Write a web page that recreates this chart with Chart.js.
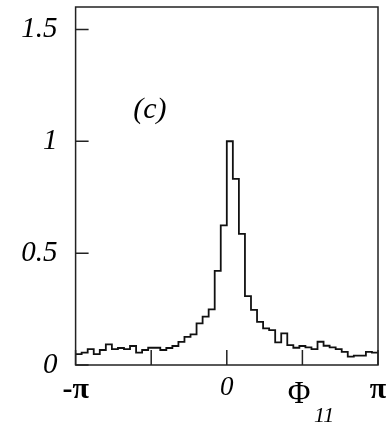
<!DOCTYPE html>
<html>
<head>
<meta charset="utf-8">
<script src="https://cdn.jsdelivr.net/npm/chart.js@4/dist/chart.umd.min.js"></script>
<style>
  html, body { margin: 0; padding: 0; background: #fff; }
  #wrap { width: 387px; height: 425px; }
</style>
</head>
<body>
<div id="wrap"><canvas id="c" width="387" height="425"></canvas></div>
<script>
// ---- data ----
const binLow = -Math.PI;
const binHigh = Math.PI;
const binValues = [
  0.049, 0.055, 0.071, 0.049, 0.067, 0.092, 0.071, 0.076, 0.071, 0.085,
  0.055, 0.067, 0.077, 0.077, 0.067, 0.076, 0.085, 0.103, 0.126, 0.137,
  0.186, 0.216, 0.249, 0.421, 0.624, 1.000, 0.832, 0.586, 0.308, 0.246,
  0.193, 0.164, 0.156, 0.101, 0.141, 0.089, 0.077, 0.085, 0.079, 0.071,
  0.104, 0.086, 0.079, 0.071, 0.059, 0.037, 0.042, 0.042, 0.059, 0.055
];
const xTickValues = [-Math.PI, -Math.PI / 2, 0, Math.PI / 2, Math.PI];
const xTickLabels = ['-\u03c0', '', '0', '', '\u03c0'];
const yTickValues = [0, 0.5, 1, 1.5];
const yTickLabels = ['0', '0.5', '1', '1.5'];
const yMax = 1.6;
const panelLabel = '(c)';
const axisSymbol = '\u03a6';
const axisSubscript = '11';

// ---- build histogram step points from bin edges ----
const nBins = binValues.length;
const binWidth = (binHigh - binLow) / nBins;
const points = binValues.map((v, i) => ({ x: binLow + i * binWidth, y: v }));
points.push({ x: binHigh, y: binValues[nBins - 1] });

const framePlugin = {
  id: 'frame',
  afterDatasetsDraw(chart) {
    const { ctx, chartArea: a, scales: { x, y } } = chart;
    ctx.save();
    ctx.strokeStyle = '#222';
    ctx.lineWidth = 1.5;
    ctx.strokeRect(a.left, a.top, a.right - a.left, a.bottom - a.top);
    ctx.beginPath();
    xTickValues.forEach(v => {
      const px = x.getPixelForValue(v);
      ctx.moveTo(px, a.bottom);
      ctx.lineTo(px, a.bottom - 15);
    });
    yTickValues.forEach(v => {
      const py = y.getPixelForValue(v);
      ctx.moveTo(a.left, py);
      ctx.lineTo(a.left + 13, py);
    });
    ctx.stroke();

    ctx.fillStyle = '#000';
    ctx.textAlign = 'center';
    ctx.textBaseline = 'middle';
    ctx.font = 'italic 30px "Liberation Serif"';
    ctx.fillText(panelLabel, x.getPixelForValue(-1.6), y.getPixelForValue(1.14));

    // axis title Phi_11
    const phiX = x.getPixelForValue(1.5);
    ctx.font = '31px "Liberation Serif"';
    ctx.fillText(axisSymbol, phiX, a.bottom + 30);
    ctx.font = 'italic 22px "Liberation Serif"';
    ctx.textAlign = 'left';
    ctx.fillText(axisSubscript, phiX + 15, a.bottom + 51);
    ctx.restore();
  }
};

new Chart(document.getElementById('c'), {
  type: 'line',
  data: {
    datasets: [{
      data: points,
      stepped: 'before',
      borderColor: '#111',
      borderWidth: 1.8,
      pointRadius: 0,
      fill: false,
      tension: 0
    }]
  },
  options: {
    responsive: false,
    animation: false,
    devicePixelRatio: 1,
    layout: { padding: { top: 7, right: 9, left: 0, bottom: 0 } },
    plugins: { legend: { display: false }, tooltip: { enabled: false } },
    scales: {
      x: {
        type: 'linear',
        min: binLow,
        max: binHigh,
        afterBuildTicks: s => { s.ticks = xTickValues.map(v => ({ value: v })); },
        afterFit: s => { s.height = 60; s.paddingLeft = 0; s.paddingRight = 0; },
        grid: { display: false, drawTicks: false },
        border: { display: false },
        ticks: {
          autoSkip: false,
          maxRotation: 0,
          minRotation: 0,
          padding: 7,
          color: '#000',
          callback: (v, i) => xTickLabels[i],
          font: c => (c.index === 2
            ? { family: '"Liberation Serif"', size: 27, style: 'italic' }
            : { family: '"Liberation Serif"', size: 30, weight: 'bold' })
        }
      },
      y: {
        type: 'linear',
        min: 0,
        max: yMax,
        afterBuildTicks: s => { s.ticks = yTickValues.map(v => ({ value: v })); },
        afterFit: s => { s.width = 75.6; s.paddingTop = 0; s.paddingBottom = 0; },
        grid: { display: false, drawTicks: false },
        border: { display: false },
        ticks: {
          padding: 18,
          color: '#000',
          callback: (v, i) => yTickLabels[i],
          font: { family: '"Liberation Serif"', size: 29, style: 'italic' }
        }
      }
    }
  },
  plugins: [framePlugin]
});
</script>
</body>
</html>
